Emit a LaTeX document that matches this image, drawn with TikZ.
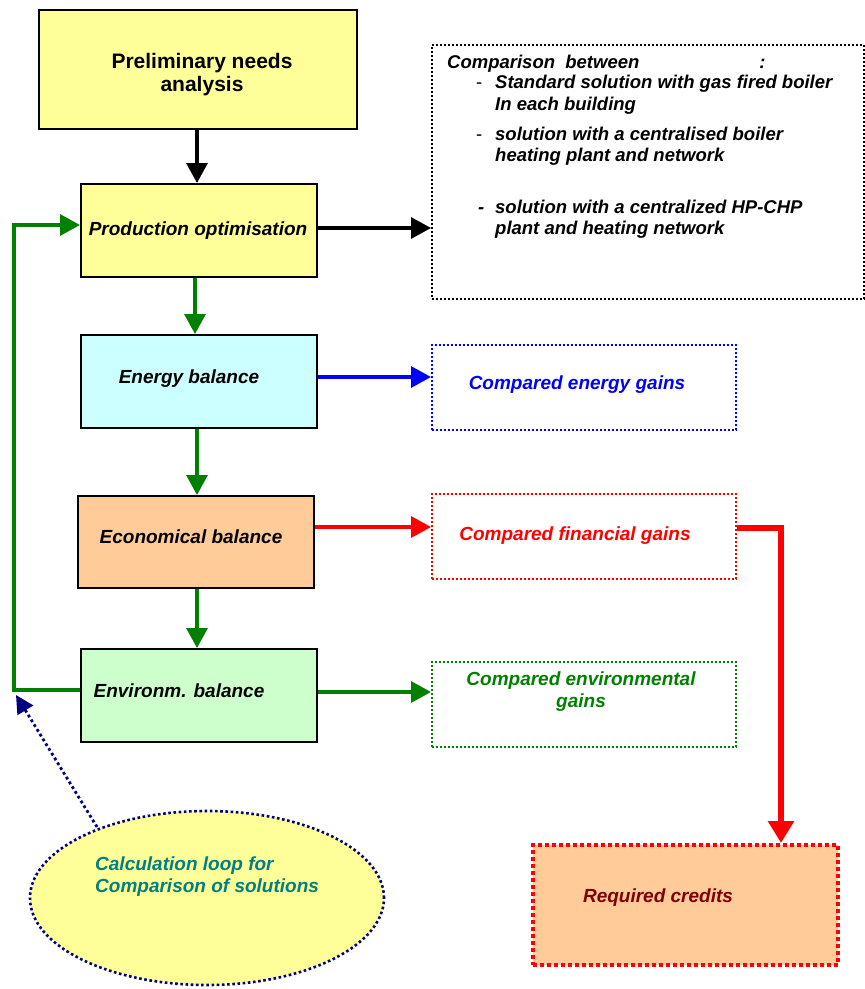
\documentclass[tikz,border=0pt]{standalone}
\usepackage{fontspec}
\setmainfont{Liberation Sans}
\usetikzlibrary{arrows.meta,shapes.geometric}
\definecolor{lyellow}{HTML}{FFFF99}
\definecolor{lcyan}{HTML}{CCFFFF}
\definecolor{lorange}{HTML}{FFCC99}
\definecolor{lgreen}{HTML}{CCFFCC}
\definecolor{dgreen}{HTML}{008000}
\definecolor{navy}{HTML}{000080}
\definecolor{teal2}{HTML}{008080}
\definecolor{dred}{HTML}{800000}
\tikzset{
  box/.style={draw=black,line width=1.8pt,inner sep=0pt,anchor=north west},
  dbox/.style={line width=2pt,dash pattern=on 2pt off 2pt,inner sep=0pt,anchor=north west},
  lbl/.style={font=\fontsize{19}{22}\selectfont\bfseries\itshape,inner sep=0pt,anchor=base},
  cmpl/.style={font=\fontsize{18.5}{21}\selectfont\bfseries\itshape,inner sep=0pt,anchor=base west},
  dashl/.style={font=\fontsize{18.5}{21}\selectfont,inner sep=0pt,anchor=base west},
  arr/.style={line width=3.3pt,-{Triangle[length=20pt,width=21pt]}},
}
\begin{document}
\begin{tikzpicture}[x=1pt,y=-1pt]
\useasboundingbox (0,0) rectangle (865,989);
% boxes
\node[box,fill=lyellow,minimum width=318pt,minimum height=119pt] (pre) at (38,9) {};
\node[font=\fontsize{21}{22}\selectfont\bfseries,inner sep=0pt,anchor=base] (pret1) at (202,68) {Preliminary needs};
\node[font=\fontsize{21}{22}\selectfont\bfseries,inner sep=0pt,anchor=base] (pret2) at (202,91) {analysis};
\node[box,fill=lyellow,minimum width=236pt,minimum height=93pt] (prod) at (80,183) {};
\node[lbl] (prodt) at (198,235) {Production optimisation};
\node[box,fill=lcyan,minimum width=236pt,minimum height=93pt] (en) at (80,334) {};
\node[lbl] (ent) at (189,383) {Energy balance};
\node[box,fill=lorange,minimum width=236pt,minimum height=92pt] (eco) at (77,495) {};
\node[lbl] (ecot) at (191,543) {Economical balance};
\node[box,fill=lgreen,minimum width=236pt,minimum height=93pt] (env) at (80,648) {};
\node[lbl] (envt) at (179,697) {Environm. balance};
% comparison box
\node[dbox,draw=black,minimum width=432pt,minimum height=254pt] (cmp) at (431,44) {};
\node[cmpl] (cmpt) at (447,68) {Comparison\ \ between\hspace{120pt}:};
\node[dashl] (d1) at (476,88) {-};
\node[cmpl] (c1a) at (495,88) {Standard solution with gas fired boiler};
\node[cmpl] (c1b) at (495,110) {In each building};
\node[dashl] (d2) at (476,140) {-};
\node[cmpl] (c2a) at (495,140) {solution with a centralised boiler};
\node[cmpl] (c2b) at (495,161) {heating plant and network};
\node[cmpl] (d3) at (478,213) {-};
\node[cmpl] (c3a) at (495,213) {solution with a centralized HP-CHP};
\node[cmpl] (c3b) at (495,234) {plant and heating network};
% result boxes
\node[dbox,draw=blue,minimum width=304pt,minimum height=85pt] (eg) at (431,344) {};
\node[lbl,text=blue] (egt) at (577,389) {Compared energy gains};
\node[dbox,draw=red,minimum width=304pt,minimum height=85pt] (fg) at (431,493) {};
\node[lbl,text=red] (fgt) at (575,540) {Compared financial gains};
\node[dbox,draw=dgreen,minimum width=304pt,minimum height=85pt] (vg) at (431,661) {};
\node[lbl,text=dgreen] (vgt1) at (581,685) {Compared environmental};
\node[lbl,text=dgreen] (vgt2) at (581,707) {gains};
\node[draw=red,fill=lorange,line width=4pt,dash pattern=on 4pt off 3pt,inner sep=0pt,anchor=north west,minimum width=305pt,minimum height=120pt] (rc) at (531,843) {};
\node[lbl,text=dred] (rct) at (658,902) {Required credits};
% ellipse
\node[ellipse,draw=navy,fill=lyellow,line width=2.6pt,dash pattern=on 2.6pt off 2.6pt,minimum width=354pt,minimum height=174pt,inner sep=0pt] (ell) at (207,898) {};
\node[lbl,text=teal2,anchor=base west] (ellt1) at (95,870) {Calculation loop for};
\node[lbl,text=teal2,anchor=base west] (ellt2) at (95,892) {Comparison of solutions};
% connectors
\draw[arr,black] (pre.south -| 197,0) -- (prod.north -| 197,0);
\draw[arr,black] (prod.east |- 0,228) -- (cmp.west |- 0,228);
\draw[arr,dgreen] (prod.south -| 195,0) -- (en.north -| 195,0);
\draw[arr,dgreen] (en.south -| 197,0) -- (eco.north -| 197,0);
\draw[arr,dgreen] (eco.south -| 197,0) -- (env.north -| 197,0);
\draw[arr,dgreen] (env.west |- 0,690) -- (14,690) -- (14,225) -- (prod.west |- 0,225);
\draw[arr,dgreen] (env.east |- 0,692) -- (vg.west |- 0,692);
\draw[arr,blue] (en.east |- 0,377) -- (eg.west |- 0,377);
\draw[arr,red] (eco.east |- 0,527) -- (fg.west |- 0,527);
\draw[line width=6pt,red,-{Triangle[length=22pt,width=25pt]}] (fg.east |- 0,528) -- (781,528) -- (rc.north -| 781,0);
\coordinate (loopc) at (16,695);
\draw[navy,line width=2.8pt,dash pattern=on 2.8pt off 2.8pt,-{Triangle[length=18pt,width=18pt]}] (97,827) -- (loopc);
\end{tikzpicture}
\end{document}
